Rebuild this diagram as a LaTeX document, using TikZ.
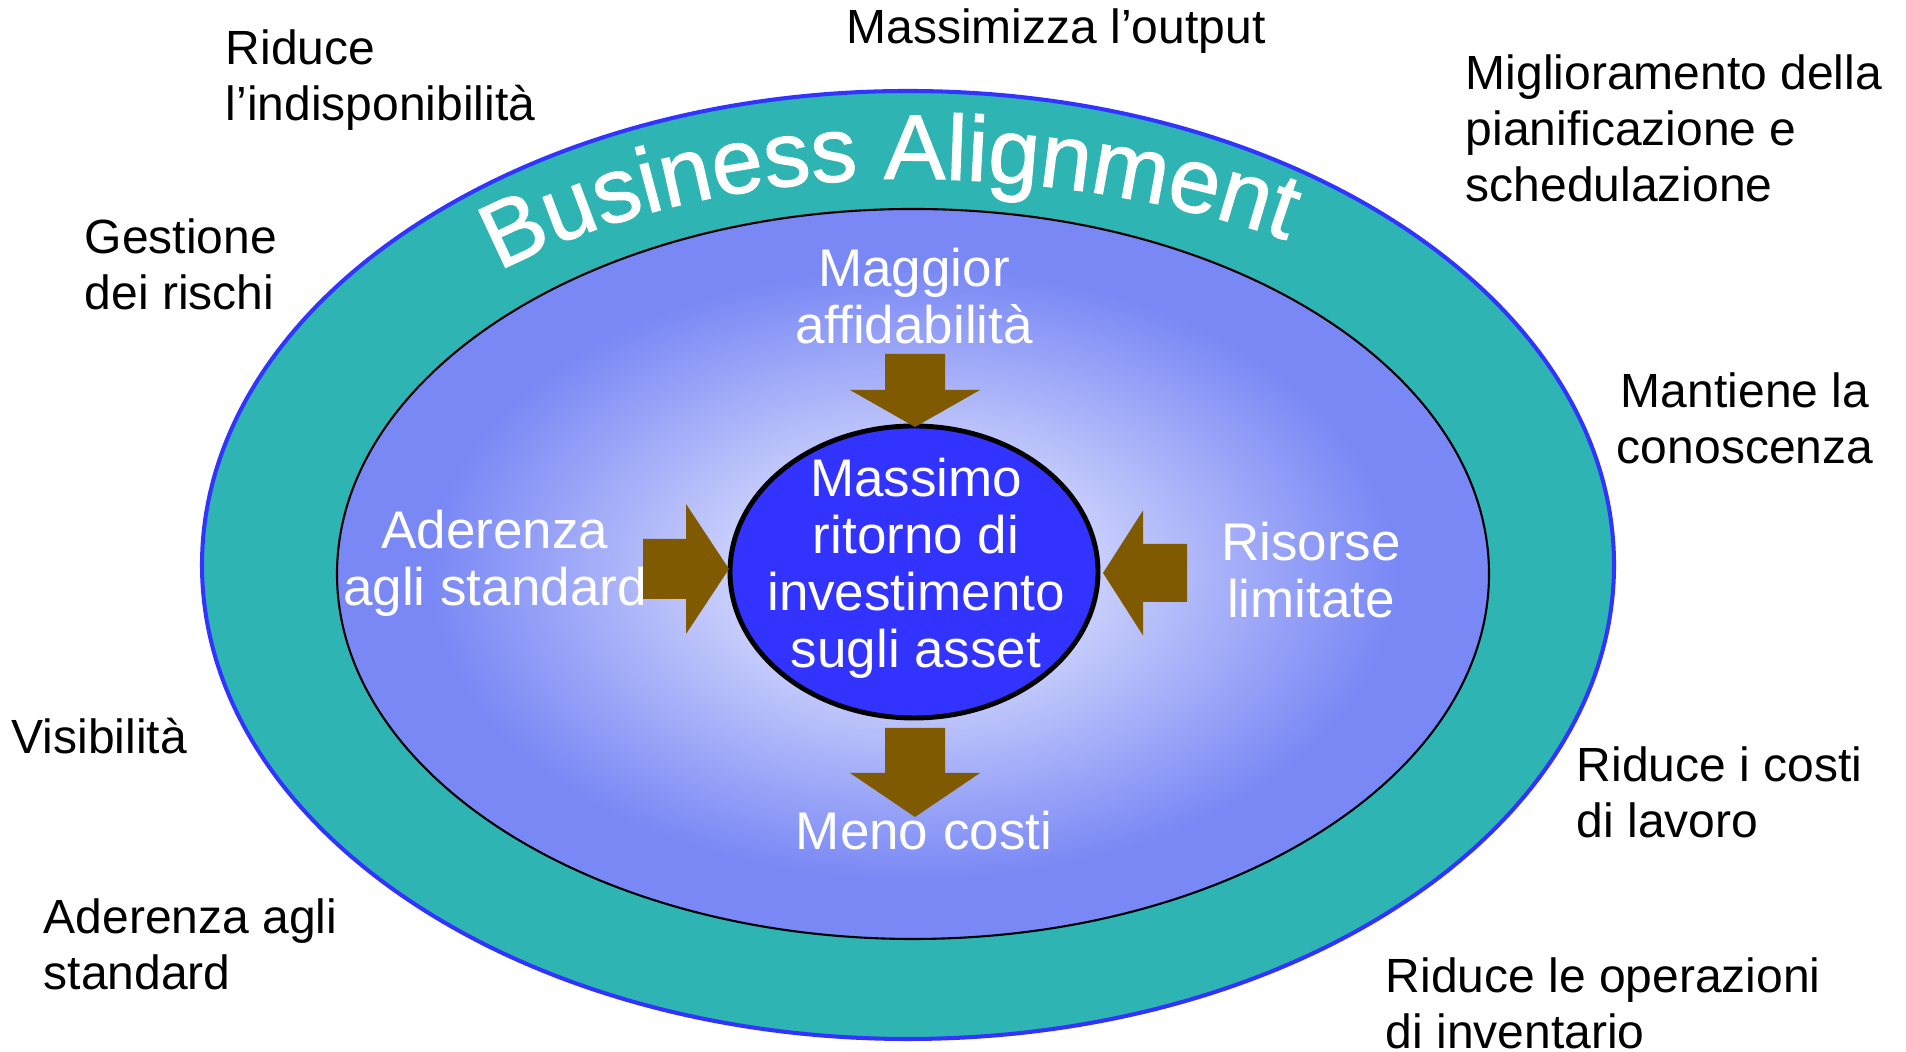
\documentclass[tikz,border=0pt]{standalone}
\usepackage{fontspec}
\setmainfont{Liberation Sans}
\newfontfamily\titlefont[FakeBold=1.2]{Liberation Sans}
\usetikzlibrary{decorations.text}

\definecolor{bandteal}{RGB}{47,180,180}
\definecolor{rimblue}{RGB}{51,51,255}
\definecolor{glowin}{RGB}{206,211,252}
\definecolor{glowout}{RGB}{121,136,245}
\definecolor{arrowbrown}{RGB}{127,90,0}
\pgfdeclareradialshading{glow}{\pgfpoint{0bp}{0bp}}{color(0bp)=(glowin); color(7bp)=(glowin); color(21bp)=(glowout); color(50bp)=(glowout)}

\begin{document}
\begin{tikzpicture}

      % Text around the ring is black, text inside the field is white
      \tikzstyle{ringtext}=[inner sep=0, font=\fontsize{13.66pt}{15.93pt}\selectfont, align=left, anchor=west]
      \tikzstyle{fieldtext}=[inner sep=0, text=white, font=\fontsize{15.08pt}{16.2pt}\selectfont, align=center]
      % The fat brown arrows pointing at the hub
      \tikzstyle{fat}=[fill=arrowbrown, draw=none]

      % Page size
      \useasboundingbox (0,0) rectangle (19.06,10.52);

      % Define coordinates used in the diagram
      \coordinate (oc) at (9.08,4.87);      % Centre of the outer ring
      \coordinate (ic) at (9.13,4.78);      % Centre of the shaded field
      \coordinate (hc) at (9.14,4.80);      % Centre of the hub

      \coordinate (tn) at (9.15,6.25);      % Tips of the four arrows
      \coordinate (ts) at (9.15,2.35);
      \coordinate (tw) at (7.29,4.83);
      \coordinate (te) at (11.03,4.79);

      % Outer ring, field and hub
      \draw [fill=bandteal, draw=rimblue, line width=1.15pt] (oc) ellipse [x radius=7.06, y radius=4.74];
      \shadedraw [shading=glow, line width=0.6pt] (ic) ellipse [x radius=5.76, y radius=3.65];
      \draw [fill=rimblue, line width=1.4pt] (hc) ellipse [x radius=1.84, y radius=1.46];

      % Title bent along the ring
      \path [shift={(oc)}, decorate, decoration={text along path, text align=center, text color=white,
             text={|\titlefont\fontsize{26.2pt}{26.2pt}\selectfont|Business Alignment}}]
            (132.5:6.3 and 3.86) arc [start angle=132.5, end angle=90, x radius=6.3, y radius=3.86]
                                 arc [start angle=90, end angle=55.5, x radius=7, y radius=3.86];

      % Arrows, drawn from their tips
      \fill [fat] (tn) -- ++(0.65,0.37) -- ++(-0.35,0) -- ++(0,0.36) -- ++(-0.60,0) -- ++(0,-0.36) -- ++(-0.35,0) -- cycle;
      \fill [fat] (ts) -- ++(0.65,0.44) -- ++(-0.35,0) -- ++(0,0.45) -- ++(-0.60,0) -- ++(0,-0.45) -- ++(-0.35,0) -- cycle;
      \fill [fat] (tw) -- ++(-0.43,0.65) -- ++(0,-0.35) -- ++(-0.43,0) -- ++(0,-0.60) -- ++(0.43,0) -- ++(0,-0.35) -- cycle;
      \fill [fat] (te) -- ++(0.40,0.625) -- ++(0,-0.335) -- ++(0.44,0) -- ++(0,-0.58) -- ++(-0.44,0) -- ++(0,-0.335) -- cycle;

      % Texts inside the field
      \node [fieldtext] (hub) at (9.16,4.84) {Massimo\\ritorno di\\investimento\\sugli asset};
      \node [fieldtext] (affid) at (9.14,7.555) {Maggior\\affidabilità};
      \node [fieldtext] (stdin) at (4.95,4.89) {Aderenza\\agli standard};
      \node [fieldtext] (risorse) at (13.11,4.815) {Risorse\\limitate};
      \node [fieldtext] (costi) at (9.24,2.21) {Meno costi};

      % Benefits around the ring
      \node [ringtext, anchor=center] (output) at (10.56,10.21) {Massimizza l’output};
      \node [ringtext] (indisp) at (2.25,9.715) {Riduce\\l’indisponibilità};
      \node [ringtext] (plan) at (14.65,9.235) {Miglioramento della\\pianificazione e\\schedulazione};
      \node [ringtext] (rischi) at (0.84,7.875) {Gestione\\dei rischi};
      \node [ringtext, align=center, anchor=center] (conosc) at (17.45,6.335) {Mantiene la\\conoscenza};
      \node [ringtext] (visib) at (0.11,3.155) {Visibilità};
      \node [ringtext] (lavoro) at (15.76,2.60) {Riduce i costi\\di lavoro};
      \node [ringtext] (stdout) at (0.43,1.08) {Aderenza agli\\standard};
      \node [ringtext] (invent) at (13.85,0.49) {Riduce le operazioni\\di inventario};

\end{tikzpicture}
\end{document}
